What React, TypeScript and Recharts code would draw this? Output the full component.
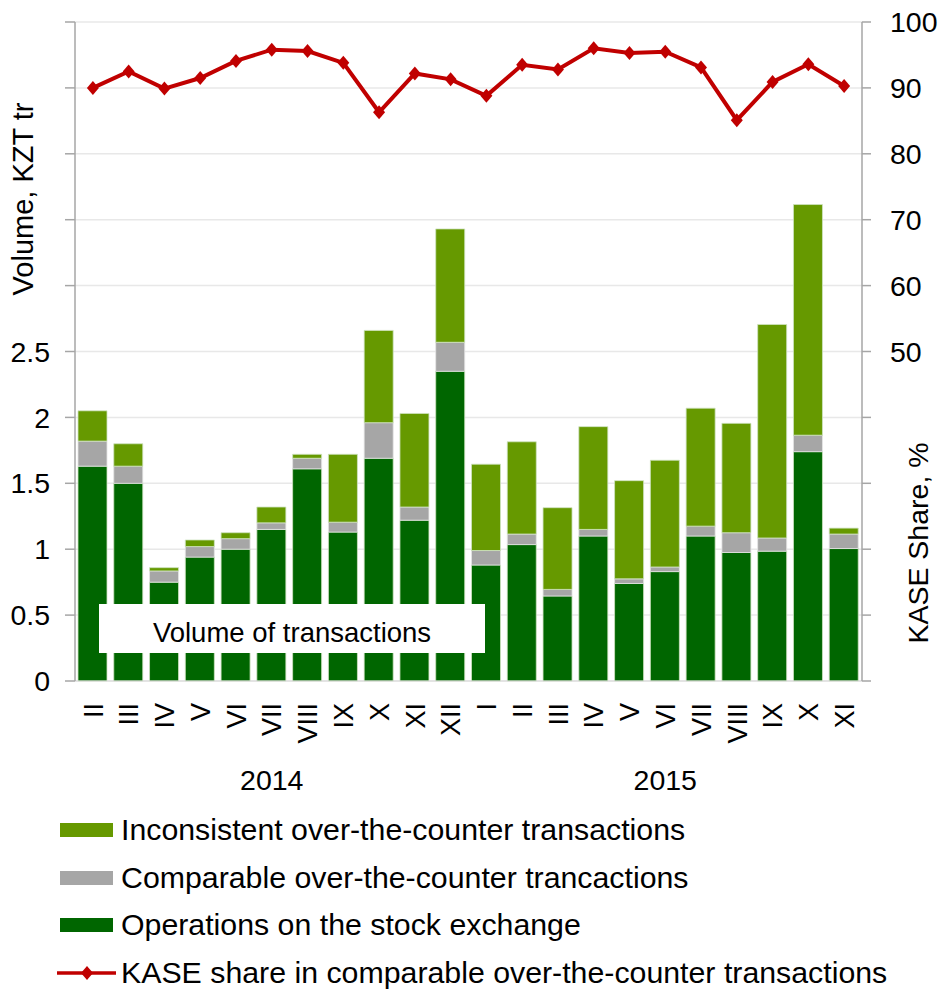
import React from 'react';
import { ComposedChart, Bar, Line, XAxis, YAxis, CartesianGrid, Legend } from 'recharts';

const months = ['II', 'III', 'IV', 'V', 'VI', 'VII', 'VIII', 'IX', 'X', 'XI', 'XII', 'I', 'II', 'III', 'IV', 'V', 'VI', 'VII', 'VIII', 'IX', 'X', 'XI'];
const monthYears = [2014, 2014, 2014, 2014, 2014, 2014, 2014, 2014, 2014, 2014, 2014, 2015, 2015, 2015, 2015, 2015, 2015, 2015, 2015, 2015, 2015, 2015];
// year caption sits under the middle month of each year
const yearMarks = [
  { label: '2014', at: 5 },
  { label: '2015', at: 16 },
];

// KZT tr
const exchange = [1.63, 1.5, 0.75, 0.94, 1.0, 1.15, 1.61, 1.13, 1.69, 1.22, 2.35, 0.88, 1.035, 0.645, 1.1, 0.74, 0.83, 1.1, 0.975, 0.985, 1.74, 1.005];
const comparable = [0.19, 0.13, 0.085, 0.08, 0.08, 0.05, 0.08, 0.075, 0.27, 0.1, 0.22, 0.11, 0.08, 0.05, 0.05, 0.035, 0.035, 0.075, 0.15, 0.1, 0.125, 0.11];
const inconsistent = [0.23, 0.17, 0.025, 0.05, 0.045, 0.12, 0.03, 0.515, 0.7, 0.71, 0.86, 0.655, 0.7, 0.62, 0.78, 0.745, 0.81, 0.895, 0.83, 1.62, 1.75, 0.045];
// %
const kaseShare = [90.0, 92.5, 89.9, 91.5, 94.1, 95.8, 95.6, 93.8, 86.3, 92.2, 91.3, 88.8, 93.5, 92.8, 96.0, 95.3, 95.5, 93.1, 85.1, 90.9, 93.6, 90.3];

const leftTicks = [0, 0.5, 1, 1.5, 2, 2.5, 3, 3.5, 4, 4.5, 5];
const rightTicks = [0, 10, 20, 30, 40, 50, 60, 70, 80, 90, 100];

const names = {
  inconsistent: 'Inconsistent over-the-counter transactions',
  comparable: 'Comparable over-the-counter trancactions',
  exchange: 'Operations on the stock exchange',
  share: 'KASE share in comparable over-the-counter transactions',
};

const data = months.map((m, i) => ({
  key: `${monthYears[i]}-${m}`,
  exchange: exchange[i],
  comparable: comparable[i],
  inconsistent: inconsistent[i],
  share: kaseShare[i],
}));

const FONT = '"Liberation Sans", Arial, sans-serif';
const C_INCONS = '#669900';
const C_COMP = '#a6a6a6';
const C_EXCH = '#006600';
const C_LINE = '#c00000';
const AXIS = '#a6a6a6';

const MonthTick = ({ x, y, payload, index }: any) => {
  const i = payload?.index ?? index;
  const year = yearMarks.find((m) => m.at === i);
  return (
    <g transform={`translate(${x},${y})`}>
      <text transform="rotate(-90)" x={-22} y={0} dy="0.36em" textAnchor="end" fill="#000" fontSize={27}>
        {months[i]}
      </text>
      {year && (
        <text x={0} y={109} textAnchor="middle" fill="#000" fontSize={28.5}>
          {year.label}
        </text>
      )}
    </g>
  );
};

const Diamond = ({ cx, cy, index }: any) => (
  <path key={index} d={`M${cx},${cy - 7}L${cx + 6},${cy}L${cx},${cy + 7}L${cx - 6},${cy}Z`} fill={C_LINE} />
);

const LegendBox = () => {
  const rows = [
    { name: names.inconsistent, color: C_INCONS, line: false },
    { name: names.comparable, color: C_COMP, line: false },
    { name: names.exchange, color: C_EXCH, line: false },
    { name: names.share, color: C_LINE, line: true },
  ];
  return (
    <div style={{ height: 188, paddingTop: 1, boxSizing: 'border-box', fontFamily: FONT, fontSize: 30.3, color: '#000' }}>
      {rows.map((r) => (
        <div key={r.name} style={{ height: 47.7, display: 'flex', alignItems: 'center', paddingLeft: r.line ? 57 : 60 }}>
          {r.line ? (
            <svg width={59} height={16} style={{ marginRight: 5 }}>
              <line x1={0} y1={8} x2={59} y2={8} stroke={C_LINE} strokeWidth={3.5} />
              <path d="M30,1L36,8L30,15L24,8Z" fill={C_LINE} />
            </svg>
          ) : (
            <span style={{ display: 'inline-block', width: 53, height: 14, background: r.color, marginRight: 8 }} />
          )}
          <span style={{ whiteSpace: 'nowrap' }}>{r.name}</span>
        </div>
      ))}
    </div>
  );
};

export default function App() {
  return (
    <div style={{ position: 'absolute', left: 0, top: 0, width: 940, height: 993, background: '#fff', fontFamily: FONT }}>
      <ComposedChart width={940} height={993} data={data} margin={{ top: 22, right: 0, bottom: 0, left: 0 }} style={{ fontFamily: FONT }}>
        <CartesianGrid yAxisId="left" vertical={false} stroke="#e8e8e8" strokeWidth={1.5} />
        <XAxis
          dataKey="key"
          interval={0}
          height={124}
          tickLine={false}
          tickSize={0}
          tickMargin={0}
          axisLine={{ stroke: '#d9d9d9' }}
          tick={<MonthTick />}
        />
        <YAxis
          yAxisId="left"
          width={75}
          domain={[0, 5]}
          ticks={leftTicks}
          interval={0}
          tickSize={10}
          tickMargin={15}
          axisLine={{ stroke: AXIS, strokeWidth: 1.5 }}
          tickLine={{ stroke: AXIS, strokeWidth: 1.5 }}
          tick={{ fill: '#000', fontSize: 28.5 }}
          tickFormatter={(v: number) => (v <= 2.5 ? String(v) : '')}
          label={() => (
            <text x={33} y={199} transform="rotate(-90 33 199)" textAnchor="middle" fill="#000" fontSize={29}>
              Volume, KZT tr
            </text>
          )}
        />
        <YAxis
          yAxisId="right"
          orientation="right"
          width={78}
          domain={[0, 100]}
          ticks={rightTicks}
          interval={0}
          tickSize={9}
          tickMargin={19}
          axisLine={{ stroke: AXIS, strokeWidth: 1.5 }}
          tickLine={{ stroke: AXIS, strokeWidth: 1.5 }}
          tick={{ fill: '#000', fontSize: 28.5, textAnchor: 'start' }}
          tickFormatter={(v: number) => (v >= 50 ? String(v) : '')}
          label={() => (
            <text x={928} y={543} transform="rotate(-90 928 543)" textAnchor="middle" fill="#000" fontSize={28.5}>
              KASE Share, %
            </text>
          )}
        />
        <Legend verticalAlign="bottom" align="left" content={<LegendBox />} wrapperStyle={{ left: 0, bottom: 0, width: 940 }} />
        <Bar yAxisId="left" dataKey="exchange" name={names.exchange} stackId="v" fill={C_EXCH} stroke="#cfe3c2" strokeWidth={0.8} barSize={29} isAnimationActive={false} />
        <Bar yAxisId="left" dataKey="comparable" name={names.comparable} stackId="v" fill={C_COMP} stroke="#e4e4e4" strokeWidth={0.8} barSize={29} isAnimationActive={false} />
        <Bar yAxisId="left" dataKey="inconsistent" name={names.inconsistent} stackId="v" fill={C_INCONS} stroke="#cfe3c2" strokeWidth={0.8} barSize={29} isAnimationActive={false} />
        <Line yAxisId="right" dataKey="share" name={names.share} stroke={C_LINE} strokeWidth={4} dot={<Diamond />} activeDot={false} isAnimationActive={false} />
      </ComposedChart>
      <div
        style={{
          position: 'absolute',
          left: 99,
          top: 604,
          width: 386,
          height: 49,
          background: '#fff',
          fontSize: 27.5,
          color: '#000',
          display: 'flex',
          alignItems: 'center',
          justifyContent: 'center',
          paddingTop: 8,
          boxSizing: 'border-box',
        }}
      >
        Volume of transactions
      </div>
    </div>
  );
}
